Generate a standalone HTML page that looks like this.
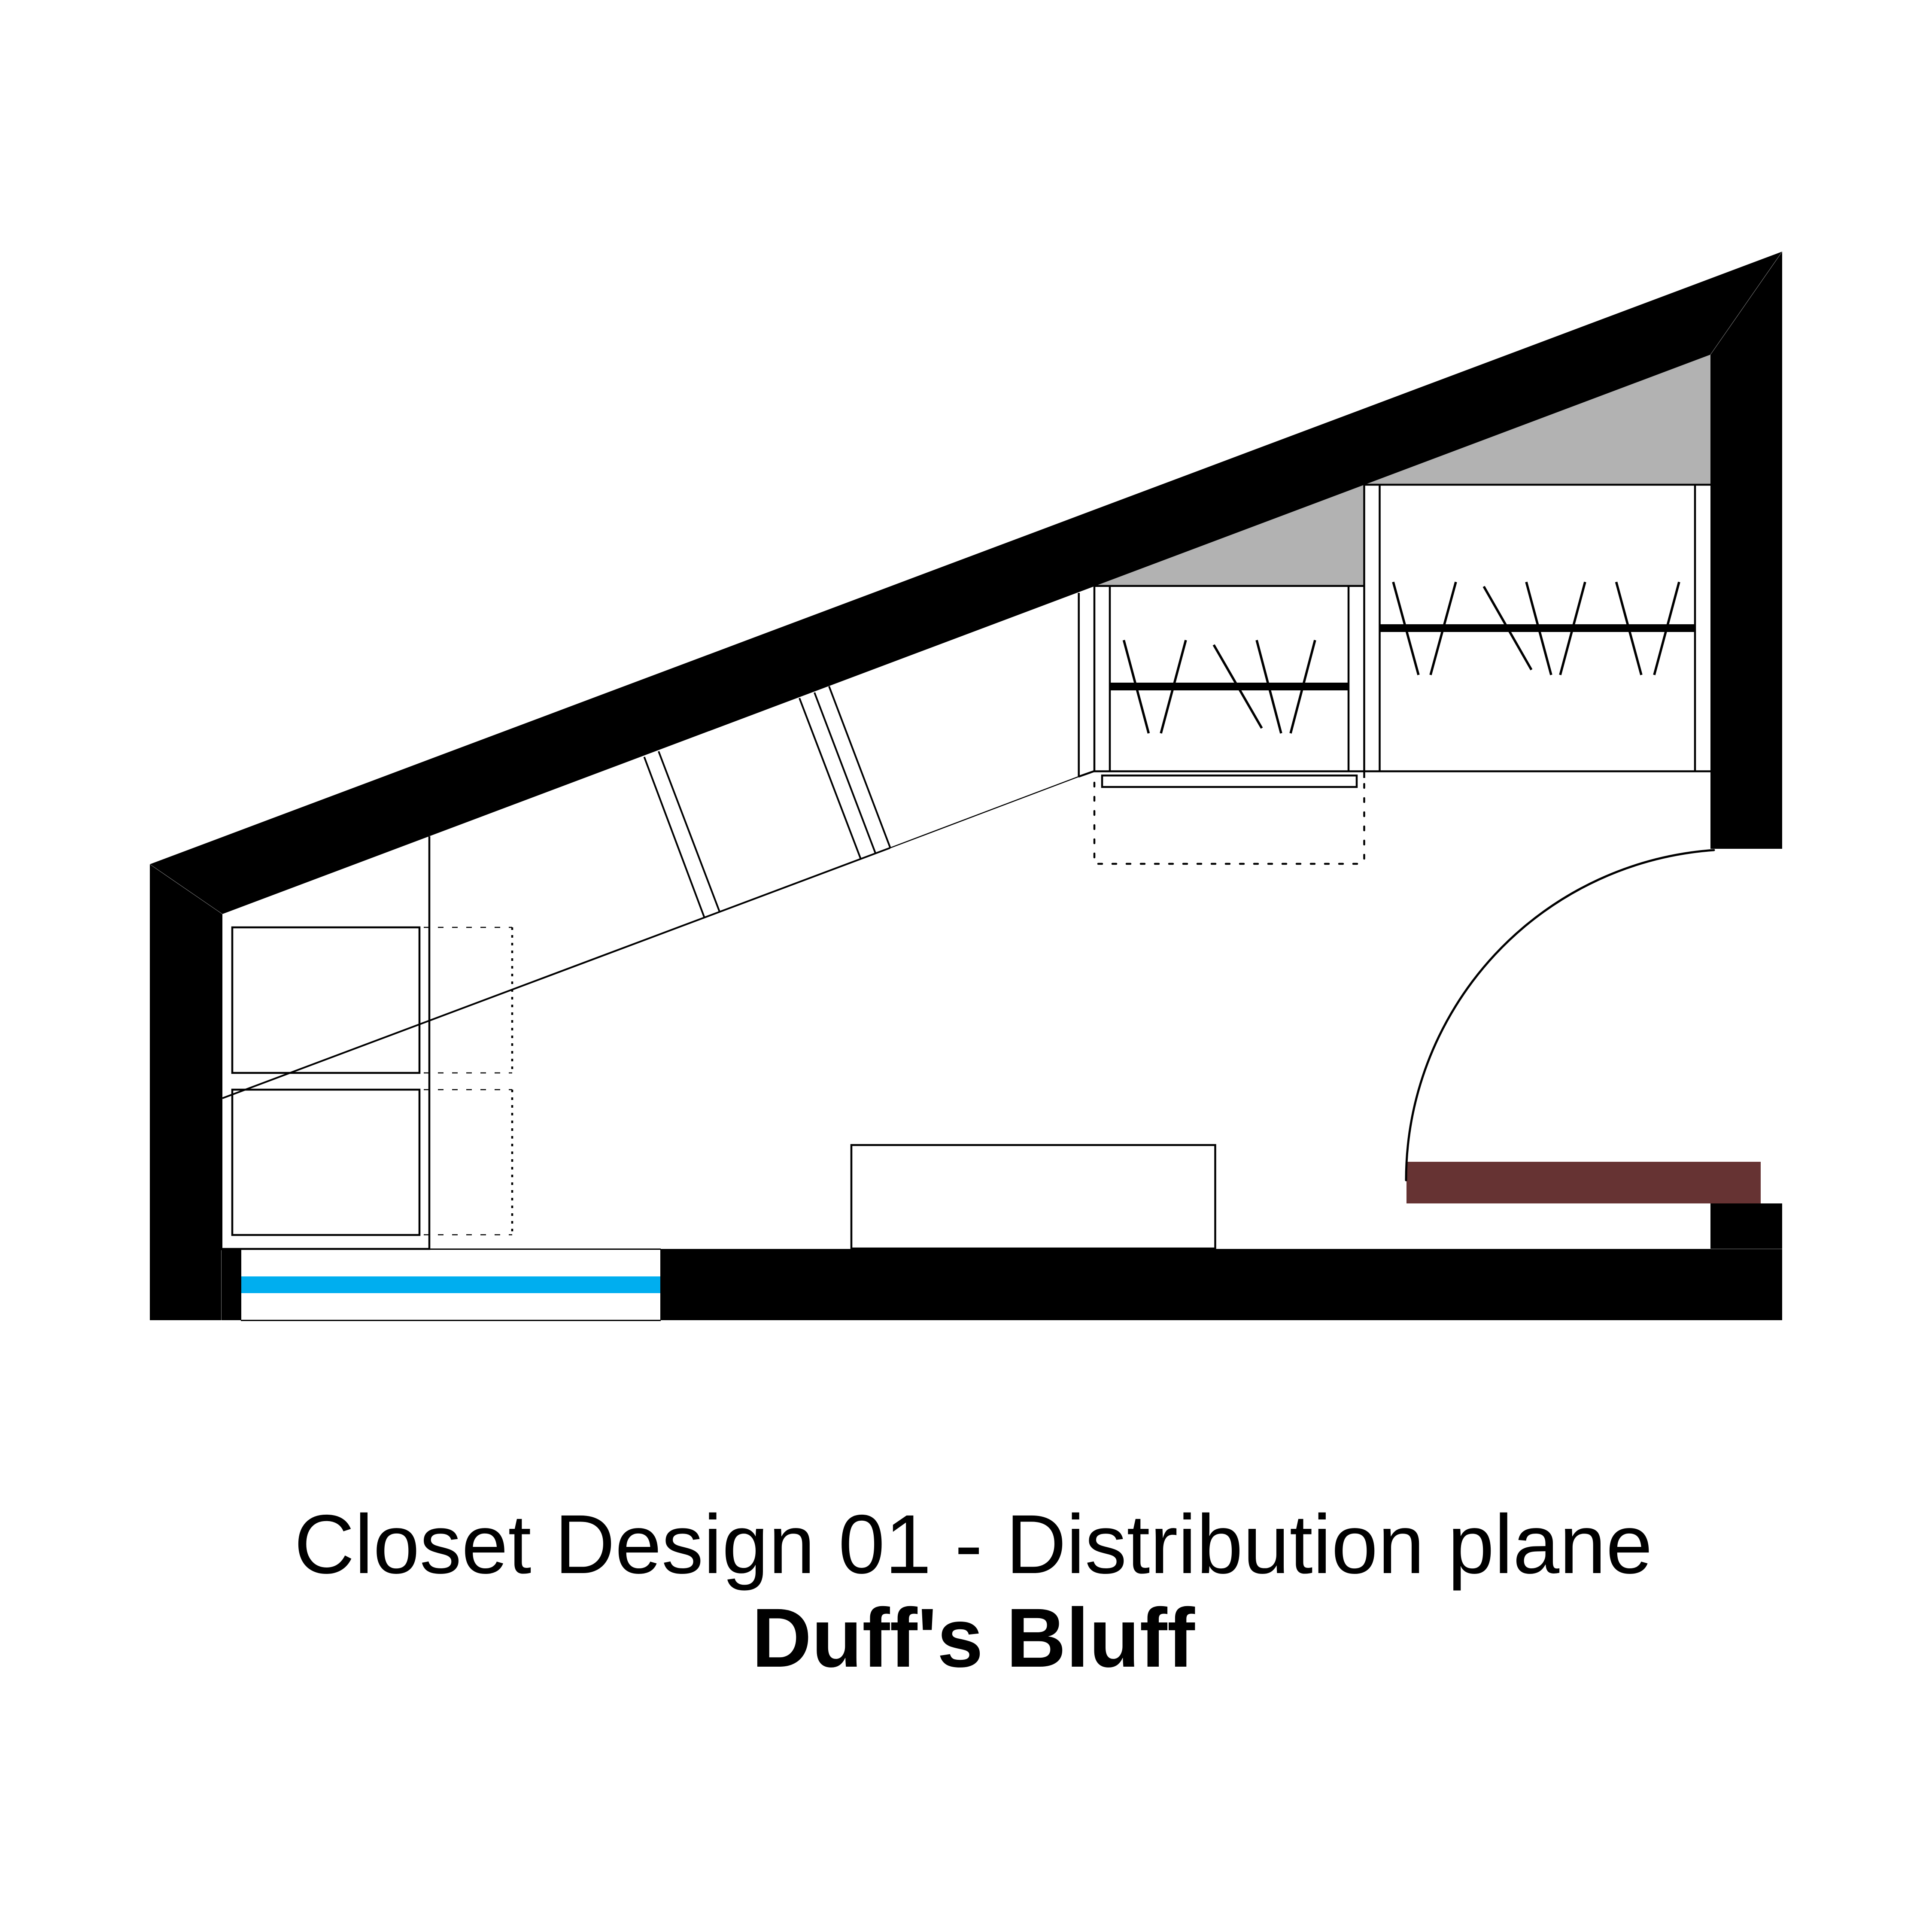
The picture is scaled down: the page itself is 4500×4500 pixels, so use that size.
<!DOCTYPE html>
<html>
<head>
<meta charset="utf-8">
<style>
html,body{margin:0;padding:0;background:#fff;width:4500px;height:4500px;overflow:hidden}
svg{display:block}
</style>
</head>
<body>
<svg xmlns="http://www.w3.org/2000/svg" width="4500" height="4500" viewBox="0 0 4500 4500">
<rect width="4500" height="4500" fill="#fff"/>
<!-- gray filler -->
<polygon points="2553,1364 3177,1129 3177,1364" fill="#b2b2b2"/>
<polygon points="3177,1129 3984,826 3984,1129" fill="#b2b2b2"/>
<!-- walls: merged silhouette -->
<polygon points="349,2013 4151,586 4151,1977 3984,1977 3984,826 518,2129 518,2909 562,2909 562,3075 349,3075" fill="#000"/>
<rect x="1538" y="2909" width="2613" height="166" fill="#000"/>
<rect x="3984" y="2803" width="167" height="107" fill="#000"/>
<!-- wall seams -->
<g stroke="#808080" fill="none" stroke-width="1">
<line x1="4151" y1="586" x2="3984" y2="826"/>
<line x1="349" y1="2013" x2="518" y2="2129"/>
<line x1="515.5" y1="2912" x2="515.5" y2="3075"/>
<line x1="3984" y1="2909" x2="4151" y2="2909"/>
</g>
<!-- window -->
<rect x="562" y="2910" width="976" height="165" fill="#fff"/>
<rect x="562" y="2973" width="976" height="39" fill="#00aeef"/>
<g stroke="#000" fill="none" stroke-width="3">
<line x1="561" y1="2909.5" x2="1539" y2="2909.5"/>
<line x1="561" y1="3075.5" x2="1539" y2="3075.5"/>
</g>
<!-- brown bench -->
<rect x="3276" y="2706" width="825" height="97" fill="#663333"/>
<!-- table -->
<rect x="1983" y="2667" width="847.5" height="241" fill="#fff" stroke="#000" stroke-width="4.5"/>
<!-- left storage -->
<g stroke="#000" fill="none" stroke-width="4.5">
<rect x="541" y="2160" width="436" height="339"/>
<rect x="541" y="2538" width="436" height="338.5"/>
<line x1="518" y1="2909" x2="1002" y2="2909"/>
<line x1="1000" y1="1948" x2="1000" y2="2909"/>
</g>
<g stroke="#000" fill="none" stroke-width="2.5" stroke-dasharray="13 20">
<line x1="987" y1="2160" x2="1193" y2="2160"/>
<line x1="987" y1="2499" x2="1193" y2="2499"/>
<line x1="987" y1="2538" x2="1193" y2="2538"/>
<line x1="987" y1="2876" x2="1193" y2="2876"/>
</g>
<g stroke="#000" fill="none" stroke-width="4.5" stroke-dasharray="6 12">
<line x1="1193" y1="2160" x2="1193" y2="2499"/>
<line x1="1193" y1="2538" x2="1193" y2="2876"/>
</g>
<!-- long diagonal -->
<line x1="518" y1="2558" x2="2073" y2="1975" stroke="#000" stroke-width="4"/>
<line x1="2073" y1="1975" x2="2512" y2="1809" stroke="#000" stroke-width="2.5"/>
<line x1="2512" y1="1809" x2="2549" y2="1796" stroke="#000" stroke-width="4.5"/>
<!-- shelves dividers -->
<g stroke="#000" fill="none" stroke-width="4">
<line x1="1500.5" y1="1763" x2="1641" y2="2138"/>
<line x1="1534" y1="1750" x2="1676" y2="2123.5"/>
<line x1="1862" y1="1626" x2="2004.6" y2="2000"/>
<line x1="1897" y1="1613" x2="2039" y2="1987"/>
<line x1="1931" y1="1598.5" x2="2073.5" y2="1974.5"/>
</g>
<!-- small closet -->
<g stroke="#000" fill="none" stroke-width="4.5">
<line x1="2512.7" y1="1381" x2="2512.7" y2="1809"/>
<line x1="2549" y1="1366" x2="2549" y2="1798"/>
<line x1="2585" y1="1364" x2="2585" y2="1796"/>
<line x1="3141" y1="1364" x2="3141" y2="1796"/>
<line x1="2548" y1="1364.7" x2="3177" y2="1364.7"/>
<rect x="2567" y="1806.3" width="593" height="26.7"/>
</g>
<rect x="2585" y="1590" width="556" height="18" fill="#000"/>
<g stroke="#000" fill="none" stroke-width="5.5">
<line x1="2617.5" y1="1491" x2="2675.5" y2="1708"/>
<line x1="2762" y1="1491" x2="2704" y2="1708"/>
<line x1="2827" y1="1502" x2="2939" y2="1696"/>
<line x1="2927" y1="1491" x2="2984" y2="1708"/>
<line x1="3063" y1="1491" x2="3006" y2="1708"/>
</g>
<!-- large closet -->
<g stroke="#000" fill="none" stroke-width="4.5">
<line x1="3177.5" y1="1129" x2="3177.5" y2="1812"/>
<line x1="3213.5" y1="1129" x2="3213.5" y2="1796"/>
<line x1="3948" y1="1129" x2="3948" y2="1796"/>
<line x1="3177" y1="1129" x2="3984" y2="1129"/>
<line x1="2548" y1="1796.5" x2="3984" y2="1796.5"/>
</g>
<rect x="3214" y="1454" width="734" height="18" fill="#000"/>
<g stroke="#000" fill="none" stroke-width="5.5">
<line x1="3245" y1="1355.5" x2="3304" y2="1572"/>
<line x1="3391" y1="1355.5" x2="3332" y2="1572"/>
<line x1="3456" y1="1366" x2="3567" y2="1560"/>
<line x1="3555" y1="1355.5" x2="3613" y2="1572"/>
<line x1="3692" y1="1355.5" x2="3634" y2="1572"/>
<line x1="3764.5" y1="1355.5" x2="3823" y2="1572"/>
<line x1="3911" y1="1355.5" x2="3853" y2="1572"/>
</g>
<!-- dashed drawer -->
<g stroke="#000" fill="none" stroke-width="4.5" stroke-dasharray="9 24" stroke-linecap="round">
<line x1="2549" y1="1823" x2="2549" y2="2006"/>
<line x1="3177.5" y1="1826" x2="3177.5" y2="2006"/>
<line x1="2558" y1="2012" x2="3172" y2="2012"/>
</g>
<!-- door arc -->
<path d="M3992 1980 A771 771 0 0 0 3275 2749" fill="none" stroke="#000" stroke-width="5" stroke-linecap="round"/>
<!-- title -->
<text x="685" y="3664" font-family="'Liberation Sans',Arial,sans-serif" font-size="195" fill="#000" textLength="3164" lengthAdjust="spacingAndGlyphs">Closet Design 01 - Distribution plane</text>
<text x="1751" y="3882" font-family="'Liberation Sans',Arial,sans-serif" font-size="195" font-weight="700" fill="#000" textLength="1032" lengthAdjust="spacingAndGlyphs">Duff's Bluff</text>
</svg>
</body>
</html>
